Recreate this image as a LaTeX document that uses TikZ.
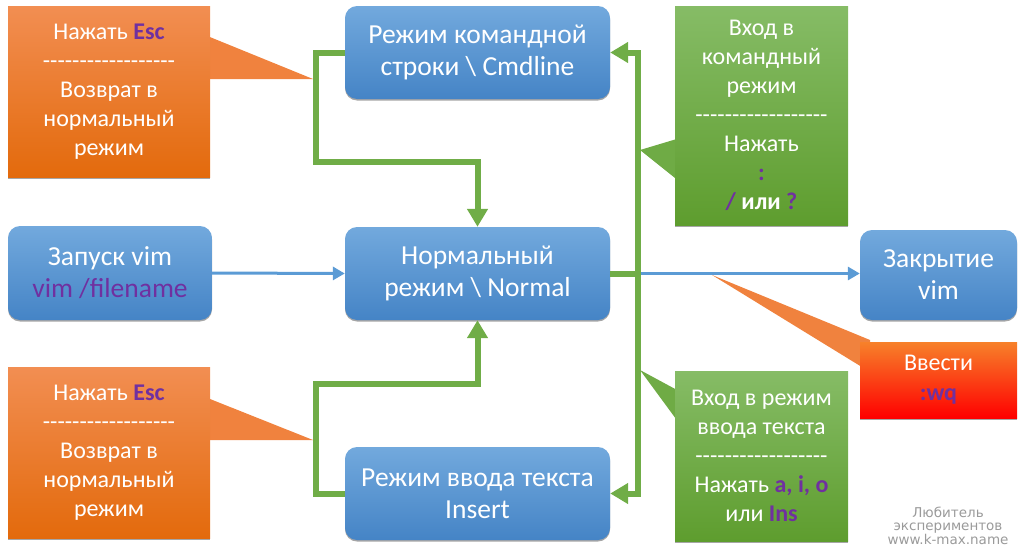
\documentclass[tikz,border=0pt]{standalone}
\usepackage{fontspec}
\setmainfont{Carlito}
\newfontfamily\wmfont{DejaVu Sans}
\usetikzlibrary{arrows.meta,shadows}
\definecolor{bluetop}{HTML}{72A9DD}
\definecolor{bluebot}{HTML}{4584C6}
\definecolor{orgtop}{HTML}{F28E52}
\definecolor{orgbot}{HTML}{E36A0C}
\definecolor{orgmid}{HTML}{F0823E}
\definecolor{grntop}{HTML}{86BC66}
\definecolor{grnbot}{HTML}{5E9D2E}
\definecolor{grnmid}{HTML}{6FAB45}
\definecolor{redtop}{HTML}{F7812A}
\definecolor{redbot}{HTML}{FF0000}
\definecolor{purp}{HTML}{7030A0}
\definecolor{gline}{HTML}{70AD47}
\definecolor{bline}{HTML}{5B9BD5}
\definecolor{wmgray}{HTML}{9A9A9A}
\newcommand{\dashrow}{-{}-{}-{}-{}-{}-{}-{}-{}-{}-{}-{}-{}-{}-{}-{}-{}-{}-{}}
\tikzset{
  bbox/.style={rounded corners=12pt, top color=bluetop, bottom color=bluebot,
    text=white, align=center, inner sep=0pt,
    font=\fontsize{27.5}{32}\selectfont,
    drop shadow={shadow xshift=0pt, shadow yshift=-1.5pt, fill=black, opacity=0.35}},
  callout/.style={rectangle, text=white, align=center, inner sep=0pt,
    font=\fontsize{24}{29}\selectfont,
    drop shadow={shadow xshift=0pt, shadow yshift=-1.5pt, fill=black, opacity=0.35}},
  orgbox/.style={callout, top color=orgtop, bottom color=orgbot},
  grnbox/.style={callout, top color=grntop, bottom color=grnbot},
  redbox/.style={callout, top color=redtop, bottom color=redbot},
  garrow/.style={draw=gline, line width=6pt, -{Triangle[width=20pt,length=18pt]}},
  gline/.style={draw=gline, line width=6pt},
  barrow/.style={draw=bline, line width=3pt, -{Triangle[width=13pt,length=12pt]}},
}
\begin{document}
\begin{tikzpicture}[x=1pt,y=-1pt]
\useasboundingbox (0,0) rectangle (1024,554);

% main boxes
\node[bbox, minimum width=265pt, minimum height=93pt] (cmd) at (477.5,52.5)
  {Режим командной\\строки \textbackslash{} Cmdline};
\node[bbox, minimum width=265pt, minimum height=93pt] (normal) at (477.5,273.5)
  {Нормальный\\режим \textbackslash{} Normal};
\node[bbox, minimum width=265pt, minimum height=93pt] (insert) at (477.5,493.5)
  {Режим ввода текста\\Insert};
\node[bbox, minimum width=204pt, minimum height=94pt] (zap) at (110,273)
  {Запуск vim\\\textcolor{purp}{vim /filename}};
\node[bbox, minimum width=157pt, minimum height=90pt] (close) at (938.5,275)
  {Закрытие\\vim};

% connectors
\coordinate (c1) at (316,162);
\coordinate (c2) at (316,384);
\coordinate (t) at (638,273.5);
\draw[barrow] (zap.east) -- (normal.west);
\draw[barrow] (t) -- (close.west |- t);
\draw[garrow] (cmd.west) -| (c1) -| (normal.north);
\draw[garrow] (insert.west) -| (c2) -| (normal.south);
\draw[gline] (normal.east) -- (t);
\draw[garrow] (t) |- (cmd.east);
\draw[garrow] (t) |- (insert.east);

% callout pointers
\fill[orgmid] (200,33) -- (313,79) -- (200,79) -- cycle;
\fill[orgmid] (200,395) -- (313,440) -- (200,440) -- cycle;
\fill[grnmid] (690,135) -- (640,150) -- (690,190) -- cycle;
\fill[grnmid] (690,397) -- (640,370) -- (690,438) -- cycle;
\fill[orgmid] (712,275) -- (870,340) -- (870,372) -- cycle;

% callouts
\node[orgbox, minimum width=202pt, minimum height=171pt] (o1) at (109,91.5)
  {Нажать \textcolor{purp}{\textbf{Esc}}\\\dashrow\\Возврат в\\нормальный\\режим};
\node[orgbox, minimum width=202pt, minimum height=171pt] (o2) at (109,452.5)
  {Нажать \textcolor{purp}{\textbf{Esc}}\\\dashrow\\Возврат в\\нормальный\\режим};
\node[grnbox, minimum width=173pt, minimum height=219pt] (g1) at (761.5,115.5)
  {Вход в\\командный\\режим\\\dashrow\\Нажать\\\textcolor{purp}{\textbf{:}}\\\textbf{\textcolor{purp}{/} или \textcolor{purp}{?}}};
\node[grnbox, minimum width=173pt, minimum height=170pt] (g2) at (761.5,456)
  {Вход в режим\\ввода текста\\\dashrow\\Нажать \textcolor{purp}{\textbf{a, i, o}}\\или \textcolor{purp}{\textbf{Ins}}};
\node[redbox, minimum width=157pt, minimum height=76pt, font=\fontsize{24}{30}\selectfont] (r1) at (938.5,380)
  {Ввести\\\textcolor{purp}{\textbf{:wq}}};

% watermark
\node[text=wmgray, align=center, inner sep=0pt, font=\wmfont\fontsize{13.5}{12.5}\selectfont] (wm) at (948,526)
  {Любитель\\экспериментов\\www.k-max.name};
\end{tikzpicture}
\end{document}
